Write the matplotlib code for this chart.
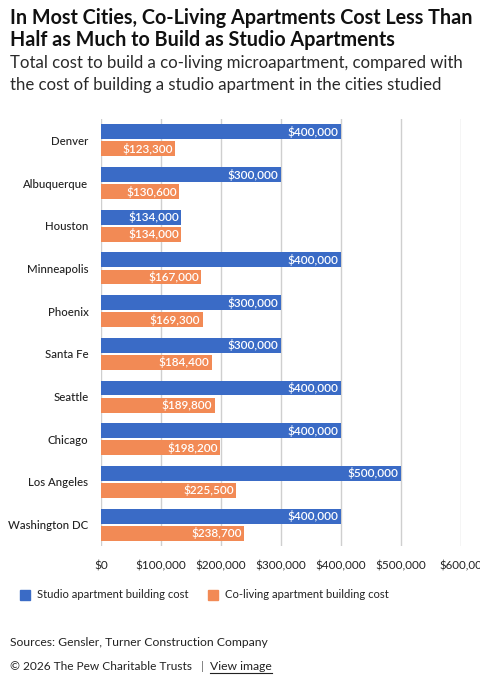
import matplotlib
matplotlib.use("Agg")
import matplotlib.pyplot as plt
import matplotlib.transforms as mtrans
from matplotlib.patches import Rectangle

cities = ["Denver", "Albuquerque", "Houston", "Minneapolis", "Phoenix",
          "Santa Fe", "Seattle", "Chicago", "Los Angeles", "Washington DC"]
studio = [400000, 300000, 134000, 400000, 300000, 300000, 400000, 400000, 500000, 400000]
coliving = [123300, 130600, 134000, 167000, 169300, 184400, 189800, 198200, 225500, 238700]
xticks = [0, 100000, 200000, 300000, 400000, 500000, 600000]
xtick_labels = ["$0", "$100,000", "$200,000", "$300,000", "$400,000", "$500,000", "$600,00"]
series_names = ["Studio apartment building cost", "Co-living apartment building cost"]

BLUE = "#3A6BC6"
ORANGE = "#F28A55"
TXT = "#222222"

plt.rcParams['font.family'] = ['Lato', 'DejaVu Sans']

W, H = 481, 680
fig = plt.figure(figsize=(W / 100, H / 100), dpi=100)

def fx(px): return px / W
def fy(py): return 1 - py / H

ax = fig.add_axes([fx(101), fy(546), fx(461) - fx(101), fy(119) - fy(546)])
ax.set_xlim(0, 600000)
ax.set_ylim(9.5, -0.5)
for s in ax.spines.values():
    s.set_visible(False)
ax.set_xticks(xticks)
ax.set_xticklabels([])
ax.tick_params(axis='both', length=0)
ax.grid(axis='x', color="#cfcfcf", linewidth=1.0)
ax.set_axisbelow(True)

bh = 0.35
off = 0.2
pos = list(range(len(cities)))
ax.barh([p - off for p in pos], studio, height=bh, color=BLUE)
ax.barh([p + off for p in pos], coliving, height=bh, color=ORANGE)
ax.set_yticks(pos)
ax.set_yticklabels(cities, fontsize=8.2, color=TXT, fontweight='medium')
ax.tick_params(axis='y', pad=9)

for p, v in zip(pos, studio):
    ax.text(v - 4000, p - off, f"${v:,.0f}", ha='right', va='center',
            color='white', fontsize=8.5, fontweight='semibold')
for p, v in zip(pos, coliving):
    ax.text(v - 4000, p + off, f"${v:,.0f}", ha='right', va='center',
            color='white', fontsize=8.5, fontweight='semibold')

# x tick labels below axis
trans = mtrans.blended_transform_factory(ax.transData, fig.transFigure)
for i, (v, lab) in enumerate(zip(xticks, xtick_labels)):
    fs = 8.3 if i == len(xticks) - 1 else 8.5
    ax.text(v, fy(566), lab, transform=trans, ha='center', va='center',
            fontsize=fs, color=TXT, clip_on=False)

# Title & subtitle
fig.text(fx(10), fy(18), "In Most Cities, Co-Living Apartments Cost Less Than",
         fontsize=14.2, fontweight='bold', color="#111111", va='center')
fig.text(fx(10), fy(40), "Half as Much to Build as Studio Apartments",
         fontsize=14.2, fontweight='bold', color="#111111", va='center')
fig.text(fx(10), fy(63), "Total cost to build a co-living microapartment, compared with",
         fontsize=12.1, color="#2a2a2a", va='center')
fig.text(fx(10), fy(85), "the cost of building a studio apartment in the cities studied",
         fontsize=12.1, color="#2a2a2a", va='center')

# Legend
for x0, col, name in [(20, BLUE, series_names[0]), (208, ORANGE, series_names[1])]:
    fig.patches.append(Rectangle((fx(x0), fy(600)), fx(10), 10 / H,
                                 transform=fig.transFigure, color=col))
    fig.text(fx(x0 + 17), fy(595), name, fontsize=8.1, color=TXT, va='center')

# Footer
fig.text(fx(10), fy(642), "Sources: Gensler, Turner Construction Company",
         fontsize=8.7, color=TXT, va='center')
fig.text(fx(10), fy(666), "\u00a9 2026 The Pew Charitable Trusts", fontsize=8.6,
         color=TXT, va='center')
fig.text(fx(201), fy(666), "|", fontsize=8.5, color="#777777", va='center')
fig.text(fx(210), fy(666), "View image", fontsize=8.7, color=TXT, va='center')
fig.lines.append(plt.Line2D([fx(210), fx(272)], [fy(673), fy(673)],
                            transform=fig.transFigure, color=TXT, linewidth=0.8))

fig.savefig("out.png", dpi=100)
